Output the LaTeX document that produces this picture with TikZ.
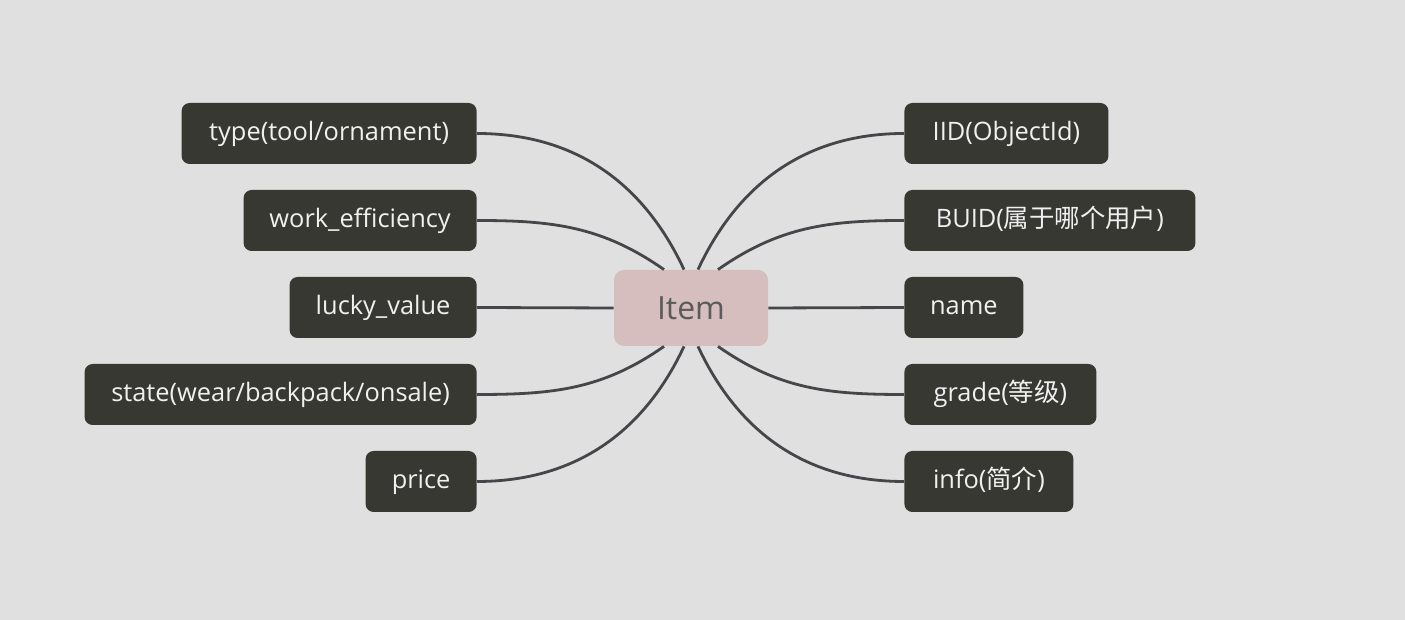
\documentclass[tikz,border=0pt]{standalone}
\usepackage{fontspec}
\setmainfont{Open Sans}
\newfontfamily\cjk{Noto Sans CJK SC}
\definecolor{mmBack}{HTML}{E0E0E0}
\definecolor{mmLeaf}{HTML}{383832}
\definecolor{mmHub}{HTML}{D5BEBD}
\definecolor{mmHubText}{HTML}{5A5A5A}
\definecolor{mmLine}{HTML}{45454A}
\usetikzlibrary{positioning}
\tikzset{
  leaf/.style={fill=mmLeaf, text=white!94!black, rounded corners=4pt,
    minimum height=30.5pt, inner sep=0pt, text height=9.4pt, text depth=2.8pt,
    font=\fontsize{12.7}{15}\selectfont},
  hub/.style={fill=mmHub, text=mmHubText, rounded corners=5pt,
    minimum width=77pt, minimum height=38pt, font=\fontsize{16}{18}\selectfont},
  link/.style={draw=mmLine, line width=1.4pt}
}

\begin{document}
\begin{tikzpicture}[x=0.5pt, y=0.5pt]
  % canvas
  \fill[mmBack] (0,0) rectangle (1405,620);
  \useasboundingbox (0,0) rectangle (1405,620);
  % centre
  \node[hub] (item) at (691,312) {Item};
  % left branch
  \node[leaf, anchor=east, minimum width=147.5pt] (type) at (477,486.5) {type(tool/ornament)};
  \node[leaf, anchor=east, minimum width=116.5pt] (eff) at (477,399.5) {work\_efficiency};
  \node[leaf, anchor=east, minimum width=93.5pt] (luck) at (477,312.5) {lucky\_value};
  \node[leaf, anchor=east, minimum width=196pt] (state) at (477,225.5) {state(wear/backpack/onsale)};
  \node[leaf, anchor=east, minimum width=55.5pt] (price) at (477,138.5) {price};
  % right branch
  \node[leaf, anchor=west, minimum width=102pt] (iid) at (904,486.5) {IID(ObjectId)};
  \node[leaf, anchor=west, minimum width=145.5pt] (buid) at (904,399.5) {BUID({\cjk 属于哪个用户})};
  \node[leaf, anchor=west, minimum width=59.5pt] (name) at (904,312.5) {name};
  \node[leaf, anchor=west, minimum width=96pt] (grade) at (904,225.5) {grade({\cjk 等级})};
  \node[leaf, anchor=west, minimum width=84.5pt] (info) at (904,138.5) {info({\cjk 简介})};
  % connectors
  \draw[link] (type.east) to[out=0, in=115] ([xshift=-3.5pt]item.north);
  \draw[link] (eff.east) to[out=0, in=145] ([xshift=-13.5pt]item.north);
  \draw[link] (luck.east) -- (item.west);
  \draw[link] (state.east) to[out=0, in=-145] ([xshift=-13.5pt]item.south);
  \draw[link] (price.east) to[out=0, in=-115] ([xshift=-3.5pt]item.south);
  \draw[link] (iid.west) to[out=180, in=65] ([xshift=3.5pt]item.north);
  \draw[link] (buid.west) to[out=180, in=35] ([xshift=13.5pt]item.north);
  \draw[link] (name.west) -- (item.east);
  \draw[link] (grade.west) to[out=180, in=-35] ([xshift=13.5pt]item.south);
  \draw[link] (info.west) to[out=180, in=-65] ([xshift=3.5pt]item.south);
\end{tikzpicture}
\end{document}
